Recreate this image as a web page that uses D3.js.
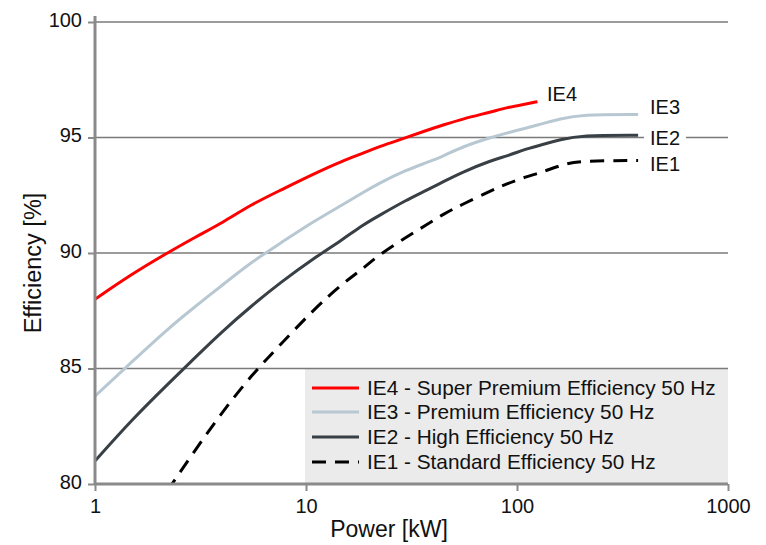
<!DOCTYPE html>
<html>
<head>
<meta charset="utf-8">
<script src="https://cdn.jsdelivr.net/npm/d3@7"></script>
<style>
  body { margin: 0; background: #fff; }
  svg { font-family: "Liberation Sans", Arial, sans-serif; }
</style>
</head>
<body>
<svg id="chart" width="766" height="545"></svg>
<script>
// DATA
const powerStd = [1, 1.5, 2.2, 3, 4, 5.5, 7.5, 11, 15, 18.5, 22, 30, 37, 45, 55, 75, 90, 110, 132, 160, 200, 375];
const ie3 = [83.8, 85.3, 86.7, 87.7, 88.6, 89.6, 90.4, 91.4, 92.1, 92.6, 93.0, 93.6, 93.9, 94.2, 94.6, 95.0, 95.2, 95.4, 95.6, 95.8, 96.0, 96.0];
const ie2 = [81.0, 82.8, 84.3, 85.5, 86.6, 87.7, 88.7, 89.8, 90.6, 91.2, 91.6, 92.3, 92.7, 93.1, 93.5, 94.0, 94.2, 94.5, 94.7, 94.9, 95.1, 95.1];
const ie1Power = [2.2, 3, 4, 5.5, 7.5, 11, 15, 18.5, 22, 30, 37, 45, 55, 75, 90, 110, 132, 160, 200, 375];
const ie1 = [79.7, 81.5, 83.1, 84.7, 86.0, 87.6, 88.7, 89.3, 89.9, 90.7, 91.2, 91.7, 92.1, 92.7, 93.0, 93.3, 93.5, 93.8, 94.0, 94.0];
const ie4Power = [1, 1.5, 2.2, 3, 4, 5.5, 7.5, 11, 15, 18.5, 22, 30, 37, 45, 55, 75, 90, 110, 125];
const ie4 = [88.0, 89.1, 90.0, 90.7, 91.3, 92.1, 92.7, 93.45, 94.0, 94.3, 94.6, 95.0, 95.3, 95.55, 95.8, 96.1, 96.3, 96.45, 96.55];

const xTicks = [1, 10, 100, 1000];
const yTicks = [80, 85, 90, 95, 100];
const yGrid = [85, 90, 95, 100];

const seriesNames = ["IE4", "IE3", "IE2", "IE1"];
const legendLabels = [
  "IE4 - Super Premium Efficiency 50 Hz",
  "IE3 - Premium Efficiency 50 Hz",
  "IE2 - High Efficiency 50 Hz",
  "IE1 - Standard Efficiency 50 Hz"
];

const series = [
  { name: "IE4", power: ie4Power, eff: ie4, color: "#ff0000", dash: null },
  { name: "IE3", power: powerStd, eff: ie3, color: "#b8c8d2", dash: null },
  { name: "IE2", power: powerStd, eff: ie2, color: "#383f45", dash: null },
  { name: "IE1", power: ie1Power, eff: ie1, color: "#000000", dash: "14,9" }
];

// SCALES
const x = d3.scaleLog().domain([1, 1000]).range([95, 728]);
const y = d3.scaleLinear().domain([80, 100]).range([484, 22]);

const svg = d3.select("#chart");

// clip for curves
svg.append("defs").append("clipPath").attr("id", "plotClip")
  .append("rect")
  .attr("x", x(1)).attr("y", y(100) - 10)
  .attr("width", x(1000) - x(1) + 20)
  .attr("height", y(80) - y(100) + 10);

// legend background (sits under grid line at 85)
const legend = svg.append("g");
legend.append("rect")
  .attr("x", 305).attr("y", y(85))
  .attr("width", x(1000) - 305).attr("height", y(80) - y(85))
  .attr("fill", "#ebebeb");

// grid lines
svg.append("g").selectAll("line").data(yGrid).join("line")
  .attr("x1", x(1)).attr("x2", x(1000))
  .attr("y1", d => y(d)).attr("y2", d => y(d))
  .attr("stroke", "#7a7a7a").attr("stroke-width", 1.5);

// curves
const line = d3.line()
  .x(d => x(d[0]))
  .y(d => y(d[1]))
  .curve(d3.curveBasis);

svg.append("g").attr("clip-path", "url(#plotClip)")
  .selectAll("path").data(series).join("path")
  .attr("d", s => line(s.power.map((p, i) => [p, s.eff[i]])))
  .attr("fill", "none")
  .attr("stroke", s => s.color)
  .attr("stroke-width", 3)
  .attr("stroke-dasharray", s => s.dash);

// axes
const yAxis = svg.append("g")
  .attr("transform", `translate(${x(1)},0)`)
  .call(d3.axisLeft(y).tickValues(yTicks).tickSize(7).tickSizeOuter(0).tickPadding(6));
const xAxis = svg.append("g")
  .attr("transform", `translate(0,${y(80)})`)
  .call(d3.axisBottom(x).tickValues(xTicks).tickFormat(d3.format("d")).tickSize(7).tickSizeOuter(0).tickPadding(8));

[yAxis, xAxis].forEach(a => {
  a.select(".domain").remove();
  a.selectAll(".tick line").attr("stroke", "#8a8a8a").attr("stroke-width", 2);
  a.selectAll(".tick text").attr("fill", "#111").style("font-size", "20px");
});
yAxis.selectAll(".tick text").attr("dy", "0.2em");

svg.append("line")
  .attr("x1", x(1)).attr("x2", x(1))
  .attr("y1", y(100) - 6).attr("y2", y(80) + 1)
  .attr("stroke", "#8a8a8a").attr("stroke-width", 3);
svg.append("line")
  .attr("x1", x(1)).attr("x2", x(1000))
  .attr("y1", y(80)).attr("y2", y(80))
  .attr("stroke", "#8a8a8a").attr("stroke-width", 3);

// axis titles
svg.append("text")
  .attr("transform", `translate(41,263) rotate(-90)`)
  .attr("text-anchor", "middle")
  .style("font-size", "23.5px").attr("fill", "#111")
  .text("Efficiency [%]");
svg.append("text")
  .attr("x", 389).attr("y", 537)
  .attr("text-anchor", "middle")
  .style("font-size", "23px").attr("fill", "#111")
  .text("Power [kW]");

// end labels
const endLabels = [
  { name: seriesNames[0], px: 547, py: 101 },
  { name: seriesNames[1], px: 650, py: 114 },
  { name: seriesNames[2], px: 650, py: 145 },
  { name: seriesNames[3], px: 650, py: 171 }
];
const lab = svg.append("g");
lab.append("rect")
  .attr("x", 644).attr("y", 128).attr("width", 42).attr("height", 20)
  .attr("fill", "#fff");
lab.selectAll("text").data(endLabels).join("text")
  .attr("x", d => d.px).attr("y", d => d.py)
  .style("font-size", "20px").attr("fill", "#111")
  .text(d => d.name);

// legend entries
const rowY = [388, 412, 437, 462];
const rows = legend.selectAll("g.row").data(series).join("g")
  .attr("class", "row")
  .attr("transform", (d, i) => `translate(0,${rowY[i]})`);
rows.append("line")
  .attr("x1", 312).attr("x2", 359)
  .attr("stroke", d => d.color).attr("stroke-width", 3)
  .attr("stroke-dasharray", d => d.dash);
rows.append("text")
  .attr("x", 367).attr("y", 7)
  .style("font-size", "20.8px").attr("fill", "#111")
  .text((d, i) => legendLabels[i]);
</script>
</body>
</html>
